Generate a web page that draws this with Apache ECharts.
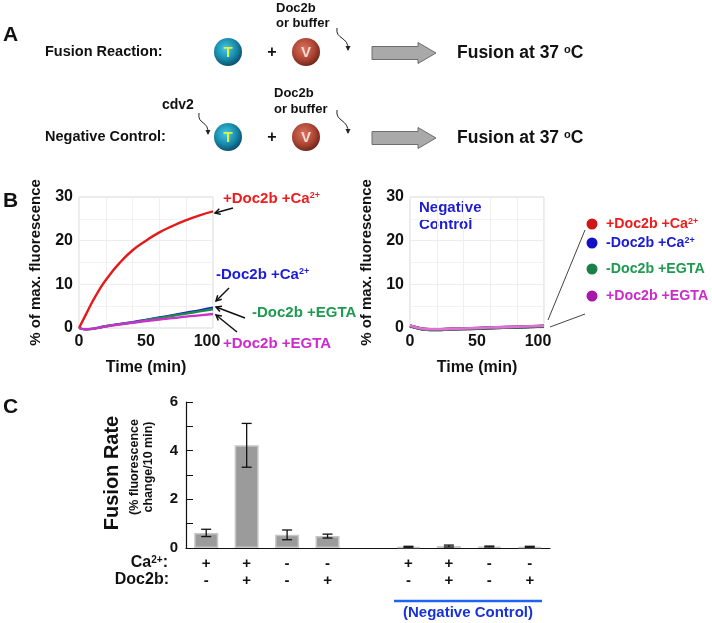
<!DOCTYPE html>
<html>
<head>
<meta charset="utf-8">
<script src="https://cdn.jsdelivr.net/npm/echarts@6/dist/echarts.min.js"></script>
<style>
html, body { margin: 0; padding: 0; background: #fff; }
#chart { width: 712px; height: 623px; }
</style>
</head>
<body>
<div id="chart"></div>
<script>
var FONT = '"Liberation Sans", Arial, Helvetica, sans-serif';

// ---- panel B: time courses, % of max. fluorescence ----
var timeMin    = [0, 5, 10, 15, 20, 30, 40, 50, 60, 70, 80, 90, 100];
var docCa      = [0, 3.0, 6.0, 8.7, 11.0, 14.8, 17.8, 20.0, 21.9, 23.4, 24.7, 25.8, 26.7];
var noDocCa    = [0, -0.3, -0.2, 0.1, 0.4, 0.9, 1.35, 1.85, 2.4, 2.95, 3.5, 4.05, 4.65];
var noDocEgta  = [0, -0.3, -0.2, 0.1, 0.4, 0.9, 1.3, 1.8, 2.3, 2.8, 3.3, 3.8, 4.3];
var docEgta    = [0, -0.3, -0.2, 0.1, 0.35, 0.8, 1.2, 1.6, 1.95, 2.25, 2.6, 2.9, 3.2];
// negative control (cdv2 blocked)
var ncDocCa     = [0.5, 0.1, -0.25, -0.35, -0.35, -0.25, -0.15, -0.05, 0.05, 0.15, 0.25, 0.35, 0.45];
var ncNoDocCa   = [0.5, 0.05, -0.3, -0.4, -0.4, -0.3, -0.2, -0.1, 0.0, 0.1, 0.2, 0.3, 0.4];
var ncNoDocEgta = [0.5, 0.05, -0.3, -0.4, -0.4, -0.3, -0.2, -0.1, 0.0, 0.1, 0.2, 0.3, 0.4];
var ncDocEgta   = [0.55, 0.1, -0.2, -0.3, -0.3, -0.2, -0.1, 0.0, 0.1, 0.2, 0.3, 0.4, 0.5];

// ---- panel C: fusion rate (% fluorescence change / 10 min) ----
var caSigns  = ['+', '+', '-', '-', '', '+', '+', '-', '-'];
var docSigns = ['-', '+', '-', '+', '', '-', '+', '-', '+'];
var rateMean = [0.62, 4.22, 0.54, 0.49, null, 0.05, 0.08, 0.06, 0.05];
var rateErr  = [0.15, 0.9, 0.2, 0.08, null, 0.02, 0.04, 0.02, 0.02];

var RED = '#e41a1a', BLUE = '#1c1cd8', GREEN = '#1e8c48', MAGENTA = '#c933c9';

function pairs(ys) {
    return timeMin.map(function (t, i) { return [t, ys[i]]; });
}

function lineSeries(name, ys, color, xi, yi, w) {
    return {
        name: name, type: 'line', xAxisIndex: xi, yAxisIndex: yi,
        data: pairs(ys), smooth: true, showSymbol: false, clip: false,
        lineStyle: { color: color, width: w || 2.4 }, itemStyle: { color: color }
    };
}

function richText(x, y, text, size, color, align) {
    return {
        type: 'text', x: x, y: y,
        style: {
            text: text, align: align || 'left', verticalAlign: 'middle',
            rich: {
                m: { fontSize: size, fontWeight: 'bold', fontFamily: FONT, fill: color },
                s: { fontSize: Math.round(size * 0.6), fontWeight: 'bold', fontFamily: FONT, fill: color, verticalAlign: 'top' }
            }
        }
    };
}

function txt(x, y, text, size, color, extra) {
    var st = { text: text, fontSize: size, fontWeight: 'bold', fontFamily: FONT, fill: color, align: 'left', verticalAlign: 'middle' };
    for (var k in extra) st[k] = extra[k];
    return { type: 'text', x: x, y: y, style: st };
}

function arrow(x1, y1, x2, y2, w) {
    var a = Math.atan2(y2 - y1, x2 - x1), h = 6;
    var s = { stroke: '#111', lineWidth: w || 1.5 };
    return [
        { type: 'line', shape: { x1: x1, y1: y1, x2: x2, y2: y2 }, style: s },
        { type: 'polyline', shape: { points: [
            [x2 - h * Math.cos(a - 0.5), y2 - h * Math.sin(a - 0.5)],
            [x2, y2],
            [x2 - h * Math.cos(a + 0.5), y2 - h * Math.sin(a + 0.5)]
        ] }, style: s }
    ];
}

function curlyArrow(x1, y1, x2, y2) {
    return [
        { type: 'bezierCurve', shape: { x1: x1, y1: y1, cpx1: x1 - 2, cpy1: y1 + 12, cpx2: x2 + 1, cpy2: y2 - 14, x2: x2, y2: y2 },
          style: { stroke: '#222', lineWidth: 1, fill: null } },
        { type: 'polygon', shape: { points: [[x2 - 2.5, y2 - 4], [x2 + 2.5, y2 - 4], [x2, y2 + 1]] }, style: { fill: '#222' } }
    ];
}

function blockArrow(x, y) {
    return { type: 'polygon', shape: { points: [
        [x, y - 6.5], [x + 46, y - 6.5], [x + 46, y - 10.5], [x + 64, y], [x + 46, y + 10.5], [x + 46, y + 6.5], [x, y + 6.5]
    ] }, style: { fill: '#a9a9a9', stroke: '#6e6e6e', lineWidth: 1 } };
}

function ball(x, y, letter, stops, letterColor) {
    return [
        { type: 'circle', shape: { cx: x, cy: y, r: 14 },
          style: { fill: new echarts.graphic.RadialGradient(0.42, 0.38, 0.65, stops) } },
        txt(x, y + 1, letter, 15, letterColor, { align: 'center' })
    ];
}

var tStops = [{ offset: 0, color: '#45c9e6' }, { offset: 0.6, color: '#1789ab' }, { offset: 1, color: '#0b4a66' }];
var vStops = [{ offset: 0, color: '#d9735e' }, { offset: 0.6, color: '#ad4634' }, { offset: 1, color: '#6b2317' }];

var shapes = [];
function add(el) { shapes = shapes.concat(el); }
function vertical(el) { el.rotation = Math.PI / 2; return el; }

// panel A
add(txt(3, 35, 'A', 21, '#111'));
add(txt(45, 52, 'Fusion Reaction:', 14.5, '#111'));
add(txt(45, 137, 'Negative Control:', 14.5, '#111'));
[52, 137].forEach(function (y) {
    add(ball(228, y, 'T', tStops, '#e2f23a'));
    add(txt(272, y + 1, '+', 16, '#111', { align: 'center' }));
    add(ball(306, y, 'V', vStops, '#f7dbd2'));
    add(blockArrow(372, y + 1));
    add(richText(457, y + 1, '{m|Fusion at 37 }{s|o}{m|C}', 17.5, '#111'));
});
add(txt(276, 8, 'Doc2b', 13, '#111'));
add(txt(276, 23, 'or buffer', 13, '#111'));
add(txt(274, 93, 'Doc2b', 13, '#111'));
add(txt(274, 109, 'or buffer', 13, '#111'));
add(txt(162, 105, 'cdv2', 14, '#111'));
add(curlyArrow(337, 28, 348, 50));
add(curlyArrow(337, 110, 348, 133));
add(curlyArrow(199, 113, 208, 134));

// panel B
add(txt(3, 201, 'B', 21, '#111'));
add(richText(223, 199, '{m|+Doc2b +Ca}{s|2+}', 15, '#ee1c1c'));
add(richText(216, 275, '{m|-Doc2b +Ca}{s|2+}', 15, BLUE));
add(richText(252, 313, '{m|-Doc2b +EGTA}', 15, '#1f9a4f'));
add(richText(223, 344, '{m|+Doc2b +EGTA}', 15, '#cc2ccc'));
add(arrow(233, 208, 215, 213));
add(arrow(229, 288, 216, 301));
add(arrow(245, 318, 216, 307));
add(arrow(237, 332, 216, 315));
add(txt(419, 208, 'Negative', 15, '#1c1cd0'));
add(txt(419, 225, 'Control', 15, '#1c1cd0'));
// legend of the right plot
var legendItems = [
    ['{m|+Doc2b +Ca}{s|2+}', '#ee1c1c', '#cf1717', 224],
    ['{m|-Doc2b +Ca}{s|2+}', BLUE, '#1212c4', 243],
    ['{m|-Doc2b +EGTA}', '#1f9a4f', '#1a8048', 269],
    ['{m|+Doc2b +EGTA}', '#cc2ccc', '#a818a8', 296]
];
legendItems.forEach(function (it) {
    add({ type: 'circle', shape: { cx: 592, cy: it[3], r: 5.5 }, style: { fill: it[2] } });
    add(richText(606, it[3], it[0], 14.2, it[1]));
});
add({ type: 'line', shape: { x1: 548, y1: 320, x2: 585, y2: 230 }, style: { stroke: '#444', lineWidth: 1 } });
add({ type: 'line', shape: { x1: 550, y1: 327, x2: 585, y2: 314 }, style: { stroke: '#444', lineWidth: 1 } });

// panel C
add(txt(3, 407, 'C', 21, '#111'));
add(vertical(txt(112, 473, 'Fusion Rate', 20, '#111', { align: 'center' })));
add(vertical(txt(135, 467, '(% fluorescence', 12.5, '#111', { align: 'center' })));
add(vertical(txt(149, 467, 'change/10 min)', 12.5, '#111', { align: 'center' })));
add(richText(168, 563, '{m|Ca}{s|2+}{m|:}', 16, '#111', 'right'));
add(richText(169, 580, '{m|Doc2b:}', 16, '#111', 'right'));
add({ type: 'line', shape: { x1: 394, y1: 601, x2: 542, y2: 601 }, style: { stroke: '#1f63f2', lineWidth: 2.5 } });
add(txt(468, 613, '(Negative Control)', 15, '#1733d6', { align: 'center' }));

var tickFont = { fontSize: 16, fontWeight: 'bold', color: '#111', fontFamily: FONT };
var nameFont = { fontSize: 16, fontWeight: 'bold', color: '#111', fontFamily: FONT };
var yNameFont = { fontSize: 15, fontWeight: 'bold', color: '#111', fontFamily: FONT };

function timeAxis(gi) {
    return {
        gridIndex: gi, type: 'value', min: 0, max: 100, interval: 50,
        axisLine: { show: false }, axisTick: { show: false }, splitLine: { show: false },
        axisLabel: Object.assign({
            margin: 6,
            formatter: function (v) { return v === 100 ? '{r|100}' : String(v); },
            rich: { r: Object.assign({ padding: [0, 12, 0, 0] }, tickFont) }
        }, tickFont),
        name: 'Time (min)', nameLocation: 'middle', nameGap: 32, nameTextStyle: nameFont
    };
}
function minorTimeAxis(gi) {
    return {
        gridIndex: gi, type: 'value', min: 0, max: 100, interval: 20,
        axisLine: { show: false }, axisTick: { show: false }, axisLabel: { show: false },
        splitLine: { lineStyle: { color: '#efefef', width: 1 } }
    };
}
function fluorAxis(gi) {
    return {
        gridIndex: gi, type: 'value', min: 0, max: 30, interval: 10,
        axisLine: { show: false }, axisTick: { show: false },
        splitLine: { lineStyle: { color: '#ececec' } },
        minorTick: { show: false, splitNumber: 2 },
        minorSplitLine: { show: true, lineStyle: { color: '#f2f2f2' } },
        axisLabel: Object.assign({ margin: 6 }, tickFont),
        name: '% of max. fluorescence', nameLocation: 'middle', nameGap: 36, nameTextStyle: yNameFont
    };
}

var errData = [];
rateMean.forEach(function (m, i) {
    if (m !== null) errData.push([i, m - rateErr[i], m + rateErr[i]]);
});

var chart = echarts.init(document.getElementById('chart'));
chart.setOption({
    animation: false,
    backgroundColor: '#fff',
    grid: [
        { left: 79, top: 197, width: 134, height: 131, show: true, borderColor: '#d6d6d6', borderWidth: 1 },
        { left: 410, top: 197, width: 134, height: 131, show: true, borderColor: '#d6d6d6', borderWidth: 1 },
        { left: 186, top: 402, width: 364, height: 146 }
    ],
    xAxis: [
        timeAxis(0), minorTimeAxis(0), timeAxis(1), minorTimeAxis(1),
        {
            gridIndex: 2, type: 'category', data: caSigns.map(function (c, i) { return 'c' + i; }),
            axisLine: { lineStyle: { color: '#111', width: 1.2 } }, axisTick: { show: false },
            axisLabel: {
                interval: 0, margin: 7, fontSize: 15, fontWeight: 'bold', color: '#111', fontFamily: FONT, lineHeight: 17,
                formatter: function (v, i) { return caSigns[i] + '\n' + docSigns[i]; }
            }
        }
    ],
    yAxis: [
        fluorAxis(0), fluorAxis(1),
        {
            gridIndex: 2, type: 'value', min: 0, max: 6, interval: 1,
            axisLine: { show: true, lineStyle: { color: '#111', width: 1.2 } },
            axisTick: { show: true, inside: true, length: 7, lineStyle: { color: '#111' } },
            splitLine: { show: false },
            axisLabel: {
                margin: 8, fontSize: 15, fontWeight: 'bold', color: '#111', fontFamily: FONT,
                formatter: function (v) { return v % 2 === 0 ? String(v) : ''; }
            }
        }
    ],
    series: [
        lineSeries('+Doc2b +Ca', docCa, RED, 0, 0),
        lineSeries('-Doc2b +Ca', noDocCa, BLUE, 0, 0),
        lineSeries('-Doc2b +EGTA', noDocEgta, GREEN, 0, 0),
        lineSeries('+Doc2b +EGTA', docEgta, MAGENTA, 0, 0),
        lineSeries('NC +Doc2b +Ca', ncDocCa, '#7a2a2a', 2, 1, 3),
        lineSeries('NC -Doc2b +Ca', ncNoDocCa, '#3a3a6a', 2, 1, 3),
        lineSeries('NC -Doc2b +EGTA', ncNoDocEgta, '#3a6a4a', 2, 1, 3),
        lineSeries('NC +Doc2b +EGTA', ncDocEgta, '#e070d8', 2, 1, 2.6),
        {
            type: 'bar', xAxisIndex: 4, yAxisIndex: 2, data: rateMean, barWidth: 24,
            itemStyle: { color: '#9b9b9b', borderColor: '#c6c6c6', borderWidth: 1.5 }
        },
        {
            type: 'custom', xAxisIndex: 4, yAxisIndex: 2, data: errData, z: 5,
            renderItem: function (params, api) {
                var lo = api.coord([api.value(0), api.value(1)]);
                var hi = api.coord([api.value(0), api.value(2)]);
                var w = 5, st = { stroke: '#111', lineWidth: 1.3 };
                return { type: 'group', children: [
                    { type: 'line', shape: { x1: lo[0], y1: lo[1], x2: hi[0], y2: hi[1] }, style: st },
                    { type: 'line', shape: { x1: lo[0] - w, y1: lo[1], x2: lo[0] + w, y2: lo[1] }, style: st },
                    { type: 'line', shape: { x1: hi[0] - w, y1: hi[1], x2: hi[0] + w, y2: hi[1] }, style: st }
                ] };
            }
        }
    ],
    graphic: shapes
});
</script>
</body>
</html>
